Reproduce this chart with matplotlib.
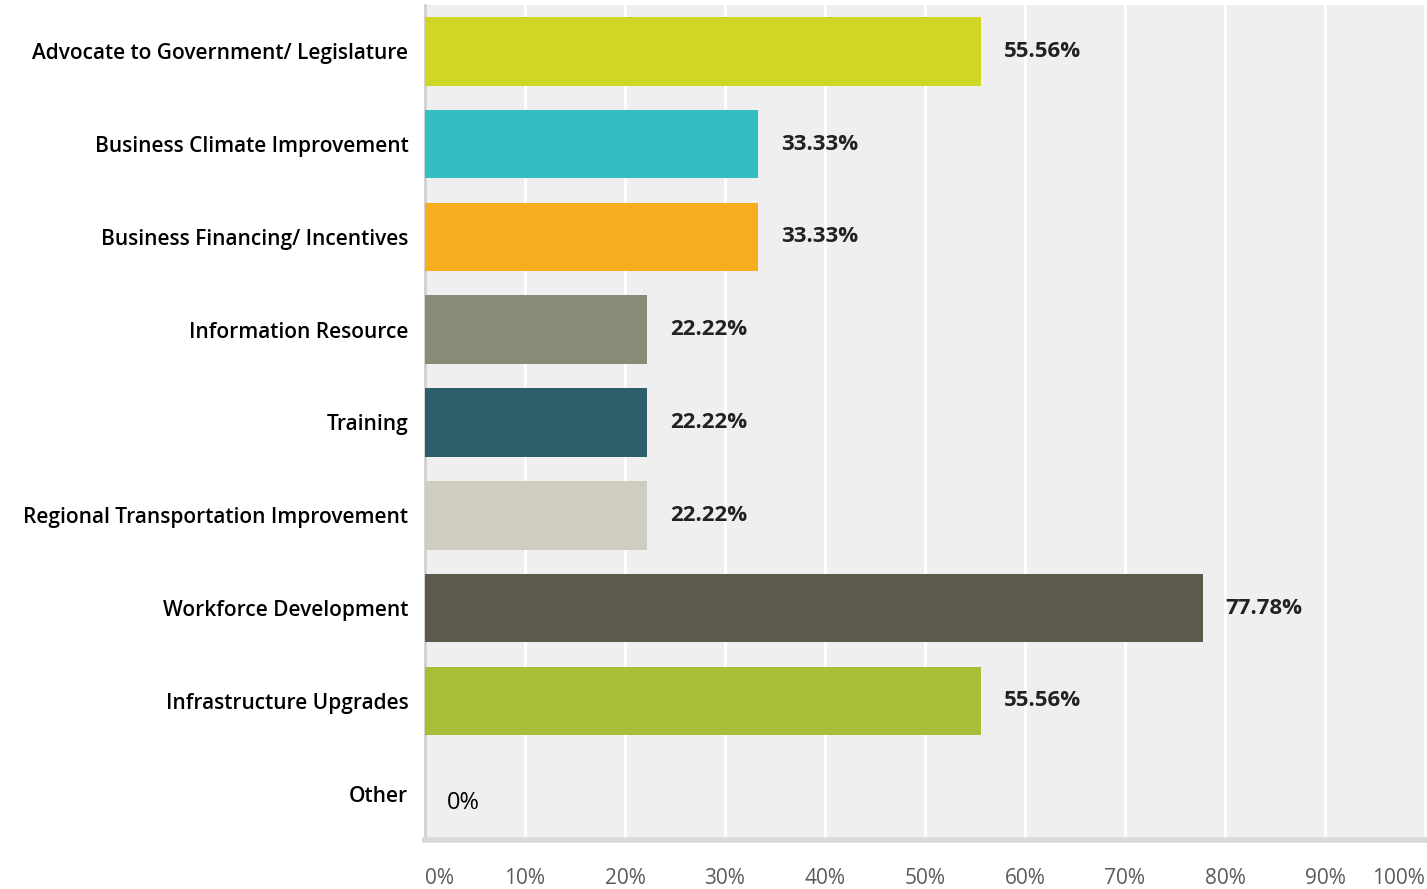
import numpy as np
import matplotlib.pyplot as plt

categories = ["Advocate to Government/ Legislature", "Business Climate Improvement",
              "Business Financing/ Incentives", "Information Resource", "Training",
              "Regional Transportation Improvement", "Workforce Development",
              "Infrastructure Upgrades", "Other"]
values = [55.56, 33.33, 33.33, 22.22, 22.22, 22.22, 77.78, 55.56, 0]
value_labels = ["55.56%", "33.33%", "33.33%", "22.22%", "22.22%", "22.22%",
                "77.78%", "55.56%", "0%"]
colors = ["#cfd626", "#35bec1", "#f6ae1f", "#898a78", "#2e5e6b",
          "#cfcdc0", "#5d5a4c", "#a9be38", "#ffffff"]
ticks = np.arange(0, 101, 10)
tick_labels = [f"{t}%" for t in ticks]

plt.rcParams['font.family'] = ['Open Sans', 'DejaVu Sans']

fig = plt.figure(figsize=(14.27, 8.89), dpi=100)
ax = fig.add_axes([0.2978, 0.0551, 0.7008, 0.9393])
ax.set_facecolor("#efefef")

y = np.arange(len(categories))
ax.barh(y, values, height=0.74, color=colors, zorder=3)

for yi, v, lab in zip(y, values, value_labels):
    if v > 0:
        ax.text(v + 2.3, yi, lab, va="center", ha="left", fontsize=16,
                fontweight="bold", color="#222222", zorder=4)
    else:
        ax.text(v + 2.2, yi + 0.1, lab, va="center", ha="left", fontsize=17,
                color="#000000", zorder=4)

ax.set_xlim(0, 100)
ax.set_ylim(len(categories) - 0.5, -0.5)
ax.set_yticks(y)
ax.set_yticklabels(categories, fontsize=15, fontweight="semibold")
ax.set_xticks(ticks)
ax.set_xticklabels(tick_labels, fontsize=15, color="#5a5a5a")
xl = ax.get_xticklabels()
xl[0].set_horizontalalignment("left")
xl[-1].set_horizontalalignment("right")
ax.tick_params(axis="both", length=0)
ax.tick_params(axis="x", pad=20)
ax.tick_params(axis="y", pad=12)

ax.grid(axis="x", color="white", linewidth=2, zorder=1)
for s in ["top", "right"]:
    ax.spines[s].set_visible(False)
ax.spines["left"].set_color("#cfcfcf")
ax.spines["left"].set_linewidth(2)
ax.spines["bottom"].set_color("#d9d9d9")
ax.spines["bottom"].set_linewidth(4)

fig.savefig("out.png", dpi=100)
